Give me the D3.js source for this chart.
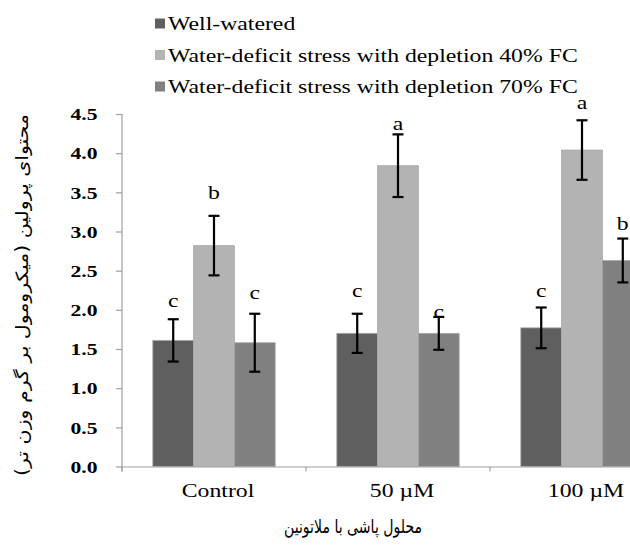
<!DOCTYPE html>
<html>
<head>
<meta charset="utf-8">
<script src="https://cdn.jsdelivr.net/npm/d3@7"></script>
<style>
  html, body { margin: 0; padding: 0; background: #fff; overflow: hidden; }
  svg { display: block; }
</style>
</head>
<body>
<svg id="chart" width="630" height="545"></svg>
<script>
// ---- data ----
const categories = ["Control", "50 \u00B5M", "100 \u00B5M"];
const seriesNames = [
  "Well-watered",
  "Water-deficit stress with depletion 40% FC",
  "Water-deficit stress with depletion 70% FC"
];
const wellWatered = [1.61, 1.70, 1.77];
const deficit40   = [2.82, 3.84, 4.04];
const deficit70   = [1.58, 1.70, 2.63];
const errWell = [0.27, 0.25, 0.26];
const err40   = [0.38, 0.40, 0.38];
const err70   = [0.37, 0.21, 0.28];
const lettersWell = ["c", "c", "c"];
const letters40   = ["b", "a", "a"];
const letters70   = ["c", "c", "b"];
const letterPosWell = [2.04, 2.17, 2.17];
const letterPos40   = [3.41, 4.30, 4.57];
const letterPos70   = [2.14, 1.89, 3.02];
const yTicks = [0, 0.5, 1.0, 1.5, 2.0, 2.5, 3.0, 3.5, 4.0, 4.5];
const yTitle = "محتوای پرولین (میکرومول بر گرم وزن تر)";
const xTitle = "محلول پاشی با ملاتونین";

const colors = ["#5f5f5f", "#b3b3b3", "#808080"];
const serif = "'Liberation Serif', 'Times New Roman', serif";
const persian = "'DejaVu Sans', sans-serif";
const SX = 1.32;

const values = [wellWatered, deficit40, deficit70];
const errors = [errWell, err40, err70];
const letters = [lettersWell, letters40, letters70];
const letterPos = [letterPosWell, letterPos40, letterPos70];

const rows = [];
categories.forEach((c, ci) => {
  values.forEach((vals, si) => {
    rows.push({cat: c, s: si, v: vals[ci], e: errors[si][ci], l: letters[si][ci], lp: letterPos[si][ci]});
  });
});

const svg = d3.select("#chart");
const x0 = 122, step = 184;
const x = d3.scaleBand().domain(categories).range([x0, x0 + 3 * step])
  .paddingInner(0.335).paddingOuter(0.1675);
const xs = d3.scaleBand().domain([0, 1, 2]).range([0, x.bandwidth()]);
const y = d3.scaleLinear().domain([0, 4.5]).range([466.5, 114]);

// bars
svg.append("g").selectAll("rect").data(rows).join("rect")
  .attr("x", d => x(d.cat) + xs(d.s))
  .attr("y", d => y(d.v))
  .attr("width", xs.bandwidth())
  .attr("height", d => y(0) - y(d.v))
  .attr("fill", d => colors[d.s])
  .attr("stroke", "#a8a8a8")
  .attr("stroke-width", 0.8);

// y axis
const yAxis = svg.append("g").attr("transform", `translate(${x0},0)`)
  .call(d3.axisLeft(y).tickValues(yTicks).tickSize(6).tickSizeOuter(0).tickFormat(d3.format(".1f")));
yAxis.select(".domain").attr("stroke", "#a0a0a0").attr("stroke-width", 1.2)
  .attr("d", `M0,${y(4.5)}V${y(0) + 5}`);
yAxis.selectAll(".tick line").attr("stroke", "#a0a0a0").attr("stroke-width", 1.2);
yAxis.selectAll(".tick text")
  .attr("x", 0).attr("dy", "0.36em")
  .attr("transform", `translate(-24.5,0) scale(1.35,1)`)
  .attr("font-family", serif).attr("font-weight", "bold").attr("font-size", 16)
  .attr("fill", "#000");

// x axis
const xAxis = svg.append("g").attr("transform", `translate(0,${y(0)})`)
  .call(d3.axisBottom(x).tickSize(0).tickSizeOuter(0));
xAxis.select(".domain").attr("stroke", "#a0a0a0").attr("stroke-width", 1.2);
xAxis.selectAll(".tick text")
  .attr("y", 0).attr("dy", 0)
  .attr("transform", `translate(4,30.5) scale(${SX},1)`)
  .attr("font-family", serif).attr("font-size", 18).attr("fill", "#000");
// boundary ticks between categories
const bounds = categories.map(c => x(c) - x.step() * x.paddingInner() / 2);
bounds.push(x(categories[categories.length - 1]) + x.bandwidth() + x.step() * x.paddingInner() / 2);
xAxis.selectAll(".bound").data(bounds).join("line").attr("class", "bound")
  .attr("x1", d => d).attr("x2", d => d).attr("y1", 0).attr("y2", 5)
  .attr("stroke", "#a0a0a0").attr("stroke-width", 1.2);

// error bars
const eb = svg.append("g").attr("stroke", "#000").attr("stroke-width", 2.2).attr("fill", "none");
rows.forEach(d => {
  const cx = x(d.cat) + xs(d.s) + xs.bandwidth() / 2;
  eb.append("line").attr("x1", cx).attr("x2", cx).attr("y1", y(d.v + d.e)).attr("y2", y(d.v - d.e));
  eb.append("line").attr("x1", cx - 5.5).attr("x2", cx + 5.5).attr("y1", y(d.v + d.e)).attr("y2", y(d.v + d.e));
  eb.append("line").attr("x1", cx - 5.5).attr("x2", cx + 5.5).attr("y1", y(d.v - d.e)).attr("y2", y(d.v - d.e));
});

// letters
svg.append("g").selectAll("text").data(rows).join("text")
  .attr("transform", d => `translate(${x(d.cat) + xs(d.s) + xs.bandwidth() / 2},${y(d.lp)}) scale(${SX},1)`)
  .attr("text-anchor", "middle")
  .attr("font-family", serif).attr("font-size", 18).attr("fill", "#000")
  .text(d => d.l);

// legend
const lg = svg.append("g").selectAll("g").data(seriesNames).join("g")
  .attr("transform", (d, i) => `translate(155,${18.5 + i * 31.5})`);
lg.append("rect").attr("width", 10).attr("height", 10).attr("fill", (d, i) => colors[i]);
lg.append("text").attr("transform", `translate(13,11.5) scale(${SX},1)`)
  .attr("font-family", serif).attr("font-size", 18).attr("fill", "#000")
  .text(d => d);

// axis titles (Persian)
svg.append("text")
  .attr("transform", "translate(28,295) rotate(-90)")
  .attr("text-anchor", "middle").attr("direction", "rtl")
  .attr("font-family", persian).attr("font-size", 17).attr("fill", "#000")
  .attr("textLength", 362).attr("lengthAdjust", "spacingAndGlyphs")
  .text(yTitle);
svg.append("text")
  .attr("x", 353).attr("y", 533)
  .attr("text-anchor", "middle").attr("direction", "rtl")
  .attr("font-family", persian).attr("font-size", 19).attr("fill", "#000")
  .attr("textLength", 138).attr("lengthAdjust", "spacingAndGlyphs")
  .text(xTitle);
</script>
</body>
</html>
